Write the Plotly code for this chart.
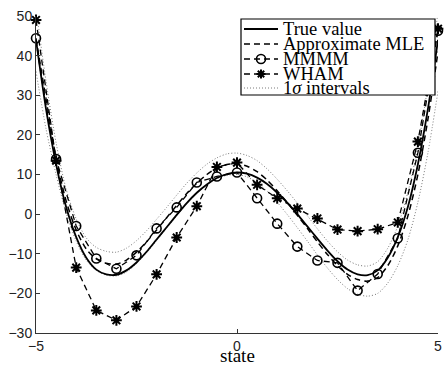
import plotly.graph_objects as go

# ---- data -------------------------------------------------------------
state_fine = [-5.0, -4.75, -4.5, -4.25, -4.0, -3.75, -3.5, -3.25, -3.0, -2.75,
              -2.5, -2.25, -2.0, -1.75, -1.5, -1.25, -1.0, -0.75, -0.5, -0.25,
              0.0, 0.25, 0.5, 0.75, 1.0, 1.25, 1.5, 1.75, 2.0, 2.25,
              2.5, 2.75, 3.0, 3.25, 3.5, 3.75, 4.0, 4.25, 4.5, 4.75, 5.0]

true_value = [44.0, 26.5, 12.6, 1.8, -5.8, -11.0, -14.0, -15.2, -15.3, -14.2,
              -12.2, -9.5, -6.4, -3.3, -0.2, 2.8, 5.4, 7.5, 9.1, 10.1,
              10.5, 10.2, 9.2, 7.6, 5.4, 2.9, 0.0, -3.1, -6.2, -9.2,
              -11.9, -14.0, -15.2, -15.4, -14.2, -11.0, -5.8, 1.8, 12.6, 26.6, 44.0]

approx_mle = [44.0, 27.5, 14.0, 3.3, -4.0, -8.8, -11.3, -12.4, -12.6, -11.6,
              -9.6, -7.0, -4.0, -0.9, 2.2, 5.2, 7.8, 10.0, 11.6, 12.5,
              12.7, 12.1, 10.7, 8.6, 5.9, 2.9, -0.3, -3.6, -7.0, -10.2,
              -13.0, -15.2, -16.5, -16.9, -16.0, -13.0, -8.0, -0.5, 10.0, 24.0, 41.0]

upper_1sigma = [52.0, 33.5, 18.0, 6.3, -1.2, -6.0, -8.4, -9.4, -9.6, -8.6,
                -6.7, -4.2, -1.3, 1.7, 4.8, 7.8, 10.4, 12.6, 14.2, 15.2,
                15.4, 14.8, 13.5, 11.4, 8.8, 5.9, 2.8, -0.4, -3.7, -6.8,
                -9.5, -11.6, -12.8, -13.1, -12.0, -8.6, -3.0, 5.5, 17.0, 32.5, 51.0]

lower_1sigma = [36.0, 21.5, 10.0, 0.3, -6.8, -11.6, -14.2, -15.4, -15.6, -14.6,
                -12.5, -9.8, -6.7, -3.5, -0.4, 2.6, 5.2, 7.4, 9.0, 9.8,
                10.0, 9.4, 7.9, 5.8, 3.0, -0.1, -3.4, -6.8, -10.3, -13.6,
                -16.5, -18.8, -20.2, -20.7, -20.0, -17.4, -13.0, -6.5, 3.0, 15.5, 31.0]

state_coarse = [-5.0, -4.5, -4.0, -3.5, -3.0, -2.5, -2.0, -1.5, -1.0, -0.5,
                0.0, 0.5, 1.0, 1.5, 2.0, 2.5, 3.0, 3.5, 4.0, 4.5, 5.0]

mmmm = [44.4, 13.9, -3.0, -11.2, -13.8, -10.4, -3.6, 1.7, 8.0, 9.5,
        10.5, 4.0, -2.4, -8.2, -11.7, -12.3, -19.3, -15.1, -6.1, 15.5, 46.3]

wham = [49.0, 13.5, -13.5, -24.3, -26.8, -23.3, -15.2, -5.9, 2.0, 11.9,
        13.0, 7.4, 4.0, 1.4, -1.1, -3.9, -4.3, -3.8, -2.1, 18.3, 46.8]

x_ticks = [-5, 0, 5]
y_ticks = [-30, -20, -10, 0, 10, 20, 30, 40, 50]

legend_labels = ["True value", "Approximate MLE", "MMMM", "WHAM",
                 "1<i>σ</i> intervals"]

# ---- figure -----------------------------------------------------------
W, H = 445, 368
M_L, M_R, M_T, M_B = 36, 7, 16, 35
DASH = "6px,4px"
DOT = "1px,2px"
INK = "black"

fig = go.Figure()

for band in (upper_1sigma, lower_1sigma):
    fig.add_trace(go.Scatter(x=state_fine, y=band, mode="lines",
                             line=dict(color="#7a7a7a", width=1, dash=DOT,
                                       shape="spline", smoothing=0.8),
                             showlegend=False, hoverinfo="skip"))

fig.add_trace(go.Scatter(x=state_fine, y=true_value, mode="lines",
                         line=dict(color=INK, width=1.8, shape="spline", smoothing=0.8),
                         showlegend=False))
fig.add_trace(go.Scatter(x=state_fine, y=approx_mle, mode="lines",
                         line=dict(color=INK, width=1.5, dash=DASH,
                                   shape="spline", smoothing=0.8),
                         showlegend=False))
fig.add_trace(go.Scatter(x=state_coarse, y=mmmm, mode="lines+markers",
                         line=dict(color=INK, width=1.3, dash=DASH),
                         marker=dict(symbol="circle-open", size=9, color=INK,
                                     line=dict(width=1.6, color=INK)),
                         cliponaxis=False, showlegend=False))
fig.add_trace(go.Scatter(x=state_coarse, y=wham, mode="lines+markers",
                         line=dict(color=INK, width=1.3, dash=DASH),
                         marker=dict(symbol="asterisk-open", size=9, color=INK,
                                     line=dict(width=2, color=INK)),
                         cliponaxis=False, showlegend=False))

axis_common = dict(showline=True, linecolor="#333333", linewidth=1,
                   ticks="inside", ticklen=4, tickcolor="#333333",
                   showgrid=False, zeroline=False, mirror=False,
                   tickfont=dict(family="Liberation Sans, Arial", size=14, color="#222222"))

fig.update_xaxes(range=[-5, 5], tickvals=x_ticks, **axis_common)
fig.update_yaxes(range=[-30, 50], tickvals=y_ticks, **axis_common)

# ---- hand-built legend box (pixel layout converted to paper units) -----
plot_w = W - M_L - M_R
plot_h = H - M_T - M_B


def px(X):
    return (X - M_L) / plot_w


def py(Y):
    return (H - M_B - Y) / plot_h


box_l, box_r, box_t, box_b = 241, 435, 19, 95
rows = [29, 44, 59, 74, 88]
samp_l, samp_r, text_x = 244, 278, 281

shapes = [dict(type="rect", xref="paper", yref="paper", layer="above",
               x0=px(box_l), x1=px(box_r), y0=py(box_b), y1=py(box_t),
               line=dict(color="black", width=1.2), fillcolor="white")]

sample_styles = [dict(color=INK, width=1.8),
                 dict(color=INK, width=1.5, dash=DASH),
                 dict(color=INK, width=1.3, dash=DASH),
                 dict(color=INK, width=1.3, dash=DASH),
                 dict(color="#7a7a7a", width=1, dash=DOT)]

annotations = []
for r, style, label in zip(rows, sample_styles, legend_labels):
    shapes.append(dict(type="line", xref="paper", yref="paper", layer="above",
                       x0=px(samp_l), x1=px(samp_r), y0=py(r), y1=py(r),
                       line=style))
    annotations.append(dict(text=label, xref="paper", yref="paper",
                            x=px(text_x), y=py(r), xanchor="left", yanchor="middle",
                            showarrow=False,
                            font=dict(family="Liberation Serif, Times New Roman",
                                      size=18.5, color="black")))

mid = (samp_l + samp_r) / 2
# circle glyph for MMMM
shapes.append(dict(type="circle", xref="paper", yref="paper", layer="above",
                   xsizemode="pixel", ysizemode="pixel",
                   xanchor=px(mid), yanchor=py(rows[2]),
                   x0=-4.5, x1=4.5, y0=-4.5, y1=4.5,
                   line=dict(color=INK, width=1.6), fillcolor="rgba(0,0,0,0)"))
# asterisk glyph for WHAM
shapes.append(dict(type="path", xref="paper", yref="paper", layer="above",
                   xsizemode="pixel", ysizemode="pixel",
                   xanchor=px(mid), yanchor=py(rows[3]),
                   path="M-4.5,0L4.5,0M0,-4.5L0,4.5M-3.2,-3.2L3.2,3.2M-3.2,3.2L3.2,-3.2",
                   line=dict(color=INK, width=2)))

annotations.append(dict(text="state", xref="paper", yref="paper",
                        x=px(237), y=py(368), xanchor="center", yanchor="bottom",
                        showarrow=False,
                        font=dict(family="Liberation Serif, Times New Roman",
                                  size=19, color="black")))

fig.update_layout(width=W, height=H,
                  margin=dict(l=M_L, r=M_R, t=M_T, b=M_B, autoexpand=False),
                  paper_bgcolor="white", plot_bgcolor="white",
                  shapes=shapes, annotations=annotations, showlegend=False)

fig.write_html("out.html")
